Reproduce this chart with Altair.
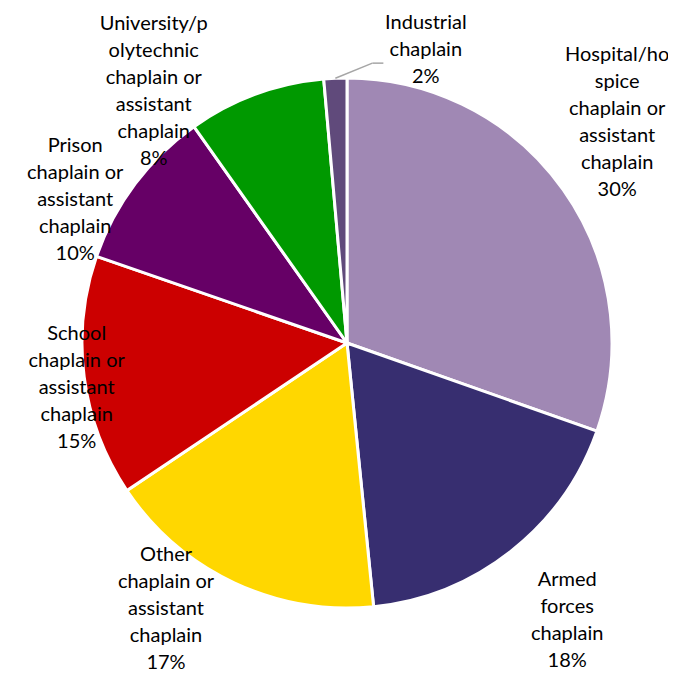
import altair as alt
import pandas as pd

# Data
categories = [
    "Hospital/hospice chaplain or assistant chaplain",
    "Armed forces chaplain",
    "Other chaplain or assistant chaplain",
    "School chaplain or assistant chaplain",
    "Prison chaplain or assistant chaplain",
    "University/polytechnic chaplain or assistant chaplain",
    "Industrial chaplain",
]
values = [30.4, 18.0, 17.2, 14.7, 9.9, 8.4, 1.4]
pct_labels = ["30%", "18%", "17%", "15%", "10%", "8%", "2%"]
label_text = [
    "Hospital/ho\nspice\nchaplain or\nassistant\nchaplain",
    "Armed\nforces\nchaplain",
    "Other\nchaplain or\nassistant\nchaplain",
    "School\nchaplain or\nassistant\nchaplain",
    "Prison\nchaplain or\nassistant\nchaplain",
    "University/p\nolytechnic\nchaplain or\nassistant\nchaplain",
    "Industrial\nchaplain",
]
colors = ["#A088B4", "#372E70", "#FFD700", "#CC0000", "#660066", "#009900", "#604A7B"]

# Label layout (radius from centre in px, angular shift in degrees from slice middle)
label_radius = [349, 354, 322, 274, 307, 317, 303]
label_shift = [-4.0, -0.3, 9.0, -2.0, -9.2, -17.4, 17.6]

CX, CY, R = 339, 335, 265
LH = 27

df = pd.DataFrame({
    "idx": list(range(len(categories))),
    "category": categories,
    "value": values,
    "label": [f"{t}\n{p}" for t, p in zip(label_text, pct_labels)],
    "lr": label_radius,
    "shift": label_shift,
})

base = alt.Chart(df)

pie = base.mark_arc(radius=R, stroke="white", strokeWidth=3).encode(
    theta=alt.Theta("value:Q", stack=True),
    color=alt.Color("category:N", scale=alt.Scale(domain=categories, range=colors), legend=None),
    order=alt.Order("idx:Q", sort="ascending"),
    x=alt.value(CX),
    y=alt.value(CY),
)

polar = base.transform_joinaggregate(
    total="sum(value)"
).transform_window(
    cum="sum(value)", sort=[alt.SortField("idx", order="ascending")]
).transform_calculate(
    mid="(datum.cum - datum.value/2) / datum.total * 360",
    nlines="length(split(datum.label, '\\n'))",
).transform_calculate(
    ang="(datum.mid + datum.shift) * PI / 180",
    mrad="datum.mid * PI / 180",
).transform_calculate(
    lx=f"{CX} + datum.lr * sin(datum.ang)",
    ly=f"{CY} - datum.lr * cos(datum.ang) - (datum.nlines - 1) * {LH} / 2",
    ex=f"{CX} + {R} * sin(datum.mrad)",
    ey=f"{CY} - {R} * cos(datum.mrad)",
    kx=f"{CX} + 281 * sin(datum.mrad + 7.7 * PI / 180)",
    ky=f"{CY} - 281 * cos(datum.mrad + 7.7 * PI / 180)",
)

texts = polar.mark_text(
    font="Lato", fontSize=20, lineBreak="\n", lineHeight=LH,
    align="center", baseline="middle", color="black",
).encode(
    x=alt.X("lx:Q", scale=None),
    y=alt.Y("ly:Q", scale=None),
    text="label:N",
)

leader1 = polar.transform_filter("datum.idx == 6").mark_rule(color="#A6A6A6", strokeWidth=1.5).encode(
    x=alt.X("ex:Q", scale=None), y=alt.Y("ey:Q", scale=None),
    x2="kx:Q", y2="ky:Q",
)
leader2 = polar.transform_filter("datum.idx == 6").transform_calculate(
    kx2="datum.kx + 11"
).mark_rule(color="#A6A6A6", strokeWidth=1.5).encode(
    x=alt.X("kx:Q", scale=None), y=alt.Y("ky:Q", scale=None),
    x2="kx2:Q", y2="ky:Q",
)

chart = alt.layer(pie, leader1, leader2, texts).properties(
    width=660, height=664, padding=0,
    autosize=alt.AutoSizeParams(type="none"),
).configure_view(strokeWidth=0)

chart.save("out.html", embed_options={"renderer": "svg", "actions": False})
